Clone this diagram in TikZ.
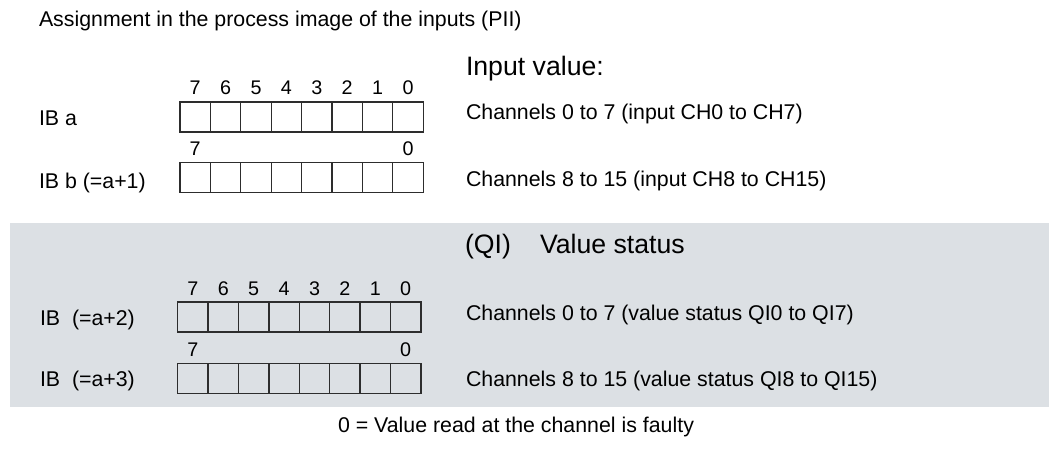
\documentclass[tikz,border=0pt]{standalone}
\usepackage{fontspec}
\setmainfont{Liberation Sans}
\usetikzlibrary{positioning}
\definecolor{bandgray}{RGB}{220,224,228}
\definecolor{linegray}{RGB}{45,45,45}
\tikzset{every node/.append style={inner sep=0pt, outer sep=0pt}}

\begin{document}
\begin{tikzpicture}[x=0.75pt, y=-0.75pt,
  title/.style={font=\fontsize{16}{19}\selectfont, anchor=base west},
  head/.style={font=\fontsize{20}{24}\selectfont, anchor=base west},
  txt/.style={font=\fontsize{16}{19}\selectfont, anchor=base west},
  bitno/.style={font=\fontsize{14.8}{17}\selectfont, anchor=base},
  bitcell/.style={draw=linegray, line width=1pt, minimum width=22.8pt, minimum height=22.6pt}]
\useasboundingbox (0,0) rectangle (1049,455);
% grey band for the value status
\fill[bandgray] (10,222.7) rectangle (1049,407);
\node[title] (T) at (39,26) {Assignment in the process image of the inputs (PII)};
% bytes
\foreach \x/\y/\n in {180/117/A, 180/177.5/B, 177.7/317/C, 177.7/378.5/D}{
  \foreach \i in {0,...,7}{
    \pgfmathtruncatemacro{\b}{7-\i}
    \node[bitcell] (\n\b) at ({\x+30.4*\i+15.2},\y) {};
  }
}
\foreach \i in {0,...,7}{
  \pgfmathtruncatemacro{\b}{7-\i}
  \node[bitno] (nA\b) at ({180+30.4*\i+15.2},94) {\b};
  \node[bitno] (nC\b) at ({177.7+30.4*\i+15.2},295) {\b};
}
\node[bitno] (nB7) at (195.2,155.7) {7};
\node[bitno] (nB0) at (408,155.7) {0};
\node[bitno] (nD7) at (192.9,356.7) {7};
\node[bitno] (nD0) at (405.7,356.7) {0};
% byte names
\node[txt] (IBa) at (39,125) {IB a};
\node[txt] (IBb) at (39,188) {IB b (=a+1)};
\node[txt] (IBc) at (40,325) {IB\ \ (=a+2)};
\node[txt] (IBd) at (40,386.7) {IB\ \ (=a+3)};
% meaning
\node[head] (IV) at (466,75) {Input value:};
\node[txt] (CHa) at (466,119) {Channels 0 to 7 (input CH0 to CH7)};
\node[txt] (CHb) at (466,186) {Channels 8 to 15 (input CH8 to CH15)};
\node[head] (QI) at (465,253) {(QI)};
\node[head] (VS) at (540,253) {Value status};
\node[txt] (QIa) at (466,320) {Channels 0 to 7 (value status QI0 to QI7)};
\node[txt] (QIb) at (466,386.5) {Channels 8 to 15 (value status QI8 to QI15)};
\node[txt] (F) at (338,432.7) {0 = Value read at the channel is faulty};
\end{tikzpicture}
\end{document}
